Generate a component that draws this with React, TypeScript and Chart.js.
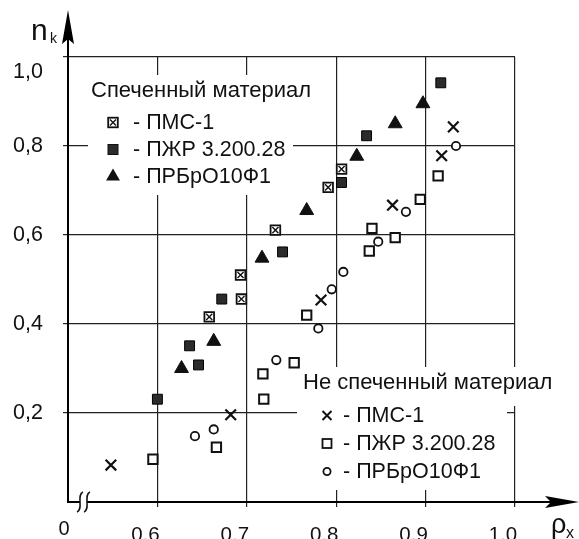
import React, { useEffect, useRef } from 'react';
import { Chart, registerables } from 'chart.js';

Chart.register(...registerables);

// ---- tick values / labels ----
const xTickValues = [0.6, 0.7, 0.8, 0.9, 1.0];
const xTickLabels = ['0.6', '0.7', '0.8', '0.9', '1.0'];
const yTickValues = [0.2, 0.4, 0.6, 0.8, 1.0];
const yTickLabels = ['0,2', '0,4', '0,6', '0,8', '1,0'];
const xOriginLabel = '0';
const xAxisTitle = ['ρ', 'x'];
const yAxisTitle = ['n', 'k'];

// ---- legend texts ----
const sinteredTitle = 'Спеченный материал';
const unsinteredTitle = 'Не спеченный материал';
const seriesNames = ['ПМС-1', 'ПЖР 3.200.28', 'ПРБрО10Ф1'];

// ---- data: sintered material ----
const sinteredPmsX = [0.658, 0.693, 0.694, 0.732, 0.791, 0.806];
const sinteredPmsY = [0.416, 0.510, 0.456, 0.611, 0.707, 0.748];

const sinteredPzhrX = [0.600, 0.636, 0.646, 0.672, 0.740, 0.806, 0.834, 0.917];
const sinteredPzhrY = [0.231, 0.351, 0.308, 0.456, 0.562, 0.718, 0.823, 0.942];

const sinteredPrbX = [0.627, 0.663, 0.717, 0.767, 0.823, 0.866, 0.897];
const sinteredPrbY = [0.300, 0.361, 0.548, 0.655, 0.777, 0.850, 0.895];

// ---- data: non-sintered material ----
const rawPmsX = [0.548, 0.682, 0.783, 0.863, 0.918, 0.931];
const rawPmsY = [0.083, 0.196, 0.454, 0.667, 0.778, 0.843];

const rawPzhrX = [0.595, 0.666, 0.719, 0.718, 0.753, 0.767, 0.837, 0.840, 0.866, 0.894, 0.914];
const rawPzhrY = [0.096, 0.123, 0.231, 0.288, 0.313, 0.420, 0.564, 0.615, 0.594, 0.680, 0.733];

const rawPrbX = [0.642, 0.663, 0.733, 0.780, 0.795, 0.808, 0.847, 0.878, 0.934];
const rawPrbY = [0.148, 0.163, 0.319, 0.390, 0.478, 0.517, 0.585, 0.652, 0.800];

const FONT = '"Liberation Sans", Arial, Helvetica, sans-serif';
const INK = '#111';

function pts(xs: number[], ys: number[]) {
  return xs.map((x, i) => ({ x, y: ys[i] }));
}

type MarkerKind = 'boxX' | 'fsq' | 'tri' | 'cross' | 'osq' | 'circ';

function drawMarker(ctx: CanvasRenderingContext2D, kind: MarkerKind, x: number, y: number) {
  ctx.save();
  ctx.strokeStyle = INK;
  switch (kind) {
    case 'boxX':
      ctx.fillStyle = '#fff';
      ctx.lineWidth = 1.8;
      ctx.fillRect(x - 4.8, y - 4.8, 9.6, 9.6);
      ctx.strokeRect(x - 4.8, y - 4.8, 9.6, 9.6);
      ctx.lineWidth = 1.4;
      ctx.beginPath();
      ctx.moveTo(x - 3, y - 3);
      ctx.lineTo(x + 3, y + 3);
      ctx.moveTo(x + 3, y - 3);
      ctx.lineTo(x - 3, y + 3);
      ctx.stroke();
      break;
    case 'fsq':
      ctx.fillStyle = '#2b2b2b';
      ctx.lineWidth = 1;
      ctx.fillRect(x - 5, y - 5, 10, 10);
      ctx.strokeRect(x - 5, y - 5, 10, 10);
      break;
    case 'tri': {
      const r = 8;
      ctx.fillStyle = INK;
      ctx.beginPath();
      ctx.moveTo(x, y - r);
      ctx.lineTo(x + r * 0.866, y + r / 2);
      ctx.lineTo(x - r * 0.866, y + r / 2);
      ctx.closePath();
      ctx.fill();
      break;
    }
    case 'cross':
      ctx.lineWidth = 2;
      ctx.beginPath();
      ctx.moveTo(x - 4.5, y - 4.5);
      ctx.lineTo(x + 4.5, y + 4.5);
      ctx.moveTo(x + 4.5, y - 4.5);
      ctx.lineTo(x - 4.5, y + 4.5);
      ctx.stroke();
      break;
    case 'osq':
      ctx.fillStyle = '#fff';
      ctx.lineWidth = 1.8;
      ctx.fillRect(x - 4.5, y - 4.5, 9, 9);
      ctx.strokeRect(x - 4.5, y - 4.5, 9, 9);
      break;
    case 'circ':
      ctx.fillStyle = '#fff';
      ctx.lineWidth = 1.8;
      ctx.beginPath();
      ctx.arc(x, y, 3.6, 0, Math.PI * 2);
      ctx.fill();
      ctx.stroke();
      break;
  }
  ctx.restore();
}

export default function App() {
  const ref = useRef<HTMLCanvasElement | null>(null);

  useEffect(() => {
    const canvas = ref.current;
    if (!canvas) return;

    const overlay = {
      id: 'overlay',
      beforeDatasetsDraw(chart: any) {
        const ctx: CanvasRenderingContext2D = chart.ctx;
        ctx.save();
        ctx.fillStyle = '#fff';
        // legend backgrounds hiding the grid
        ctx.fillRect(88, 75, 205, 120);
        ctx.fillRect(297, 367, 210, 123);
        ctx.fillRect(297, 367, 262, 39);
        ctx.restore();
      },
      afterDraw(chart: any) {
        const ctx: CanvasRenderingContext2D = chart.ctx;
        const xs = chart.scales.x;
        const ys = chart.scales.y;
        const left = xs.getPixelForValue(0.5);
        const bottom = ys.getPixelForValue(0);
        const right = xs.getPixelForValue(1.0);
        const top = ys.getPixelForValue(1.0);
        ctx.save();
        ctx.strokeStyle = '#000';
        ctx.fillStyle = '#000';
        ctx.lineWidth = 2;
        // y axis extension + arrow
        ctx.beginPath();
        ctx.moveTo(left, top);
        ctx.lineTo(left, 38);
        ctx.stroke();
        ctx.beginPath();
        ctx.moveTo(left, 10);
        ctx.lineTo(left + 6, 44);
        ctx.lineTo(left, 39);
        ctx.lineTo(left - 6, 44);
        ctx.closePath();
        ctx.fill();
        // x axis extension + arrow
        ctx.beginPath();
        ctx.moveTo(right, bottom);
        ctx.lineTo(552, bottom);
        ctx.stroke();
        ctx.beginPath();
        ctx.moveTo(579, bottom);
        ctx.lineTo(545, bottom - 6);
        ctx.lineTo(551, bottom);
        ctx.lineTo(545, bottom + 6);
        ctx.closePath();
        ctx.fill();
        // axis break
        ctx.fillStyle = '#fff';
        ctx.fillRect(left + 12, bottom - 2, 7, 4);
        ctx.strokeStyle = INK;
        ctx.lineWidth = 1.5;
        for (const bx of [left + 12, left + 19]) {
          ctx.beginPath();
          ctx.moveTo(bx + 3, bottom - 10);
          ctx.bezierCurveTo(bx - 4, bottom - 7, bx + 4, bottom + 7, bx - 3, bottom + 10);
          ctx.stroke();
        }
        // origin label
        ctx.fillStyle = INK;
        ctx.font = `20px ${FONT}`;
        ctx.textAlign = 'center';
        ctx.textBaseline = 'alphabetic';
        ctx.fillText(xOriginLabel, left - 4, 535);
        // axis titles
        ctx.textAlign = 'left';
        ctx.font = `30px ${FONT}`;
        ctx.fillText(yAxisTitle[0], 31, 40);
        ctx.font = `14px ${FONT}`;
        ctx.fillText(yAxisTitle[1], 50, 43);
        ctx.font = `27px ${FONT}`;
        ctx.fillText(xAxisTitle[0], 551, 533);
        ctx.font = `16px ${FONT}`;
        ctx.fillText(xAxisTitle[1], 566, 538);
        // legends
        ctx.font = `22px ${FONT}`;
        ctx.fillText(sinteredTitle, 91, 97);
        ctx.fillText(unsinteredTitle, 303, 389);
        ctx.font = `21.5px ${FONT}`;
        const topKinds: MarkerKind[] = ['boxX', 'fsq', 'tri'];
        const botKinds: MarkerKind[] = ['cross', 'osq', 'circ'];
        const topBase = [129, 156, 183];
        const botBase = [422, 450, 478];
        seriesNames.forEach((name, i) => {
          ctx.fillStyle = INK;
          ctx.fillText('- ' + name, 133, topBase[i]);
          ctx.fillText('- ' + name, 343, botBase[i]);
          drawMarker(ctx, topKinds[i], 113, topBase[i] - 6.5);
          drawMarker(ctx, botKinds[i], 327, botBase[i] - 6.5);
        });
        ctx.restore();
      },
    };

    const pmsSintered = pts(sinteredPmsX, sinteredPmsY);

    const chart = new Chart(canvas, {
      type: 'scatter',
      data: {
        datasets: [
          {
            label: 'Спеченный ' + seriesNames[0] + ' (x)',
            data: pmsSintered,
            pointStyle: 'crossRot',
            pointRadius: 4.3,
            borderColor: INK,
            borderWidth: 1.4,
            order: 0,
          },
          {
            label: 'Спеченный ' + seriesNames[0],
            data: pmsSintered,
            pointStyle: 'rect',
            pointRadius: 6.8,
            backgroundColor: '#fff',
            borderColor: INK,
            borderWidth: 1.8,
            order: 1,
          },
          {
            label: 'Спеченный ' + seriesNames[1],
            data: pts(sinteredPzhrX, sinteredPzhrY),
            pointStyle: 'rect',
            pointRadius: 7,
            backgroundColor: '#2b2b2b',
            borderColor: '#000',
            borderWidth: 1,
            order: 2,
          },
          {
            label: 'Спеченный ' + seriesNames[2],
            data: pts(sinteredPrbX, sinteredPrbY),
            pointStyle: 'triangle',
            pointRadius: 8,
            backgroundColor: INK,
            borderColor: INK,
            borderWidth: 1,
            order: 3,
          },
          {
            label: 'Не спеченный ' + seriesNames[0],
            data: pts(rawPmsX, rawPmsY),
            pointStyle: 'crossRot',
            pointRadius: 7.5,
            borderColor: INK,
            borderWidth: 2.2,
            order: 4,
          },
          {
            label: 'Не спеченный ' + seriesNames[1],
            data: pts(rawPzhrX, rawPzhrY),
            pointStyle: 'rect',
            pointRadius: 6.6,
            backgroundColor: '#fff',
            borderColor: INK,
            borderWidth: 2,
            order: 5,
          },
          {
            label: 'Не спеченный ' + seriesNames[2],
            data: pts(rawPrbX, rawPrbY),
            pointStyle: 'circle',
            pointRadius: 4.2,
            backgroundColor: '#fff',
            borderColor: INK,
            borderWidth: 1.8,
            order: 6,
          },
        ],
      },
      options: {
        responsive: false,
        animation: false,
        devicePixelRatio: 1,
        layout: { padding: { left: 0, top: 57, right: 64, bottom: 0 } },
        plugins: {
          legend: { display: false },
          tooltip: { enabled: false },
        },
        scales: {
          x: {
            type: 'linear',
            min: 0.5,
            max: 1.0,
            afterBuildTicks: (s: any) => {
              s.ticks = xTickValues.map((v) => ({ value: v }));
            },
            afterFit: (s: any) => {
              s.height = 37;
            },
            grid: { color: '#222', lineWidth: 1.2, tickLength: 5, drawTicks: true },
            border: { display: true, color: '#000', width: 2 },
            ticks: {
              padding: 16,
              labelOffset: -12,
              maxRotation: 0,
              autoSkip: false,
              color: INK,
              font: { family: FONT, size: 20.5 },
              callback: (v: any) => {
                const i = xTickValues.findIndex((t) => Math.abs(t - v) < 1e-9);
                return i >= 0 ? xTickLabels[i] : '';
              },
            },
          },
          y: {
            type: 'linear',
            min: 0,
            max: 1.0,
            afterBuildTicks: (s: any) => {
              s.ticks = yTickValues.map((v) => ({ value: v }));
            },
            afterFit: (s: any) => {
              s.width = 68;
            },
            grid: { color: '#222', lineWidth: 1.2, tickLength: 5, drawTicks: true },
            border: { display: true, color: '#000', width: 2 },
            ticks: {
              padding: 20,
              color: INK,
              font: { family: FONT, size: 21.5, lineHeight: 1.36 },
              callback: (v: any) => {
                const i = yTickValues.findIndex((t) => Math.abs(t - v) < 1e-9);
                const lbl = i >= 0 ? yTickLabels[i] : '';
                return Math.abs(v - 1) < 1e-9 ? ['', lbl] : lbl;
              },
            },
          },
        },
      },
      plugins: [overlay],
    } as any);

    return () => {
      chart.destroy();
    };
  }, []);

  return (
    <div style={{ position: 'fixed', left: 0, top: 0, width: 579, height: 539, background: '#fff' }}>
      <canvas ref={ref} width={579} height={539} style={{ display: 'block', width: 579, height: 539 }} />
    </div>
  );
}
